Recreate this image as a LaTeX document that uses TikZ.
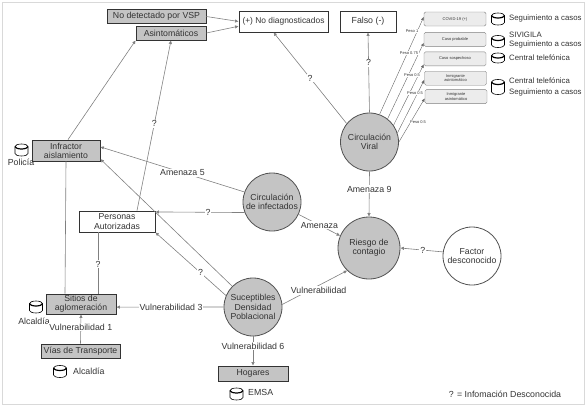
\documentclass[tikz,border=0pt]{standalone}
\usepackage{fontspec}
\setmainfont{Liberation Sans}
\usepackage{xcolor}
\usetikzlibrary{arrows.meta,positioning,shapes.geometric}
\definecolor{tinta}{HTML}{333333}
\definecolor{linea}{HTML}{808080}
\definecolor{relleno}{HTML}{C4C4C4}
\tikzset{
    caja/.style={
        rectangle,
        draw=tinta,
        thick,
        align=center,
        inner sep=0pt,
        text=tinta,
        font=\fontsize{8.7}{9.2}\selectfont
    },
    cajaGris/.style={caja, fill=relleno},
    cajaBlanca/.style={caja, fill=white},
    circulo/.style={
        circle,
        draw=tinta!85,
        thick,
        align=center,
        inner sep=0pt,
        minimum size=58pt,
        fill=relleno,
        text=tinta,
        font=\fontsize{8.7}{9.2}\selectfont
    },
    casoBox/.style={
        rectangle,
        draw=linea,
        rounded corners=1.5pt,
        fill=gray!15,
        align=center,
        inner sep=0pt,
        minimum width=62pt,
        minimum height=14pt,
        text=tinta,
        font=\fontsize{4}{4.6}\selectfont
    },
    flujo/.style={-{Latex[length=3.5pt,width=3.5pt]}, draw=linea, semithick},
    enlace/.style={draw=linea, semithick},
    flujoFino/.style={-{Latex[length=3.5pt,width=3pt]}, draw=linea!80!black, thin},
    rotulo/.style={fill=white, inner sep=1pt, text=tinta, font=\fontsize{8.8}{9.2}\selectfont},
    peso/.style={fill=white, inner sep=.5pt, text=tinta, font=\fontsize{4}{4.6}\selectfont},
    texto/.style={inner sep=0pt, align=left, anchor=west, text=tinta, font=\fontsize{7.8}{9.2}\selectfont},
    textoBase/.style={inner sep=0pt, text=tinta, font=\fontsize{8.8}{9.2}\selectfont},
    pics/banco/.style={code={
        \draw[black, semithick, fill=white] (-6.5,-#1) -- (-6.5,#1)
            arc[start angle=180, end angle=360, x radius=6.5pt, y radius=2.5pt]
            -- (6.5,-#1)
            arc[start angle=0, end angle=180, x radius=6.5pt, y radius=2.5pt] -- cycle;
        \draw[black, line width=1.2pt] (-6.5,-#1)
            arc[start angle=180, end angle=360, x radius=6.5pt, y radius=2.5pt];
    }}
}

\begin{document}
\begin{tikzpicture}[x=1pt, y=-1pt, node distance=5pt and 6pt]
    \useasboundingbox (0,0) rectangle (587,407);
    \draw[gray!30, thick] (2,2) rectangle (584,404);

    % cajas de arriba
    \node[cajaGris, minimum width=99pt, minimum height=14pt, font=\fontsize{8.75}{9.6}\selectfont] (nodetectado) at (156.5,16.5) {No detectado por VSP};
    \node[cajaGris, minimum width=70pt, minimum height=14pt, font=\fontsize{8.75}{9.6}\selectfont] (asintomaticos) at (171,33) {Asintomáticos};
    \node[cajaBlanca, minimum width=89pt, minimum height=21pt, font=\fontsize{8.4}{9.6}\selectfont] (nodiag) at (283.5,21.5) {(+) No diagnosticados};
    \node[cajaBlanca, minimum width=56pt, minimum height=21pt, font=\fontsize{8.8}{9.6}\selectfont] (falso) at (368,21.5) {Falso (-)};

    % casos
    \node[casoBox] (covid) at (455,19) {COVID-19 (+)};
    \node[casoBox, below=6pt of covid] (probable) {Caso probable};
    \node[casoBox, below=5pt of probable] (sospechoso) {Caso sospechoso};
    \node[casoBox, below=5pt of sospechoso, xshift=.5pt] (inmigranteA) {Inmigrante\\asintomático};
    \node[casoBox, below=4pt of inmigranteA, xshift=.5pt] (inmigranteB) {Inmigrante\\asintomático};

    \pic at (498,19) {banco=3.5};
    \pic at (498,41.5) {banco=3.5};
    \pic at (498,58) {banco=2.5};
    \pic at (498,87) {banco=5};
    \node[texto] (txtCovid) at (509,18) {Seguimiento a casos};
    \node[texto] (txtProbable) at (509,40) {SIVIGILA\\Seguimiento a casos};
    \node[texto] (txtSospechoso) at (509,58) {Central telefónica};
    \node[texto] (txtInmigrante) at (509,87) {Central telefónica\\[1pt]Seguimiento a casos};

    % circulos
    \node[circulo] (viral) at (369.5,142) {Circulación\\Viral};
    \node[circulo] (infectados) at (272,202) {Circulación\\de infectados};
    \node[circulo] (suceptibles) at (253,307) {Suceptibles\\Densidad\\Poblacional};
    \node[circulo, minimum size=62pt] (riesgo) at (369,248) {Riesgo de\\contagio};
    \node[circulo, fill=white] (factor) at (472,256) {Factor\\desconocido};

    % cajas de la izquierda y abajo
    \node[cajaGris, minimum width=68pt, minimum height=21pt] (infractor) at (66,150.5) {Infractor\\aislamiento};
    \node[cajaBlanca, minimum width=76pt, minimum height=21pt] (personas) at (117,221.5) {Personas\\Autorizadas};
    \node[cajaGris, minimum width=70pt, minimum height=20pt] (sitios) at (81,304) {Sitios de\\aglomeración};
    \node[cajaGris, minimum width=79pt, minimum height=14pt] (vias) at (80.5,351) {Vías de Transporte};
    \node[cajaGris, minimum width=70pt, minimum height=15pt] (hogares) at (253,373.5) {Hogares};

    \pic at (21.5,150) {banco=3.5};
    \node[textoBase] (txtPolicia) at (21,162) {Policía};
    \pic at (36,307) {banco=3.5};
    \node[textoBase] (txtAlcaldiaA) at (34,321) {Alcaldía};
    \pic at (60,371.5) {banco=3.5};
    \node[textoBase, anchor=west] (txtAlcaldiaB) at (73,371) {Alcaldía};
    \pic at (236.5,394) {banco=3.5};
    \node[textoBase, anchor=west] (txtEmsa) at (248,392) {EMSA};
    \node[textoBase] (leyenda) at (505,394) {? = Infomación Desconocida};

    % flechas
    \draw[flujo] (nodetectado.east) -- (nodiag.west);
    \draw[flujo] (asintomaticos.east) -- (nodiag.186);
    \draw[flujo] (viral.141) -- node[rotulo] {?} ([xshift=-10pt]nodiag.south);
    \draw[flujo] (viral.north) -- node[rotulo, pos=.62] {?} (falso.south);

    \draw[flujoFino] (viral.70) -- (covid.176);
    \draw[flujoFino] (viral.52) -- (probable.186);
    \draw[flujoFino] (viral.35) -- (sospechoso.190);
    \draw[flujoFino] (viral.18) -- (inmigranteA.183);
    \draw[flujoFino] (viral.0) -- (inmigranteB.183);
    \node[peso] (pesoUno) at (412,31) {Peso 1};
    \node[peso] (pesoDos) at (409,53) {Peso 0.75};
    \node[peso] (pesoTres) at (412,75) {Peso 0.5};
    \node[peso] (pesoCuatro) at (415,93) {Peso 0.5};
    \node[peso] (pesoCinco) at (418,122) {Peso 0.5};

    \draw[flujo] ([xshift=2pt]infractor.north) -- (asintomaticos.south west);
    \draw[enlace] ([xshift=-16pt]sitios.north) -- (infractor.south);
    \draw[flujo] ([xshift=20pt]personas.north) -- node[rotulo, pos=.51] {?} (asintomaticos.south);
    \draw[enlace] ([xshift=17pt]sitios.north) -- node[rotulo, pos=.48] {?} ([xshift=-19pt]personas.south);

    \draw[flujo] (infectados.160) -- node[rotulo, pos=.43] {Amenaza 5} (infractor.6);
    \draw[flujo] (suceptibles.135) -- (infractor.346);
    \draw[flujo] (infectados.201) -- node[rotulo, pos=.41] {?} (personas.14);
    \draw[flujo] (suceptibles.157) -- node[rotulo, pos=.36] {?} (personas.south east);
    \draw[flujo] (suceptibles.west) -- node[rotulo, pos=.49] {Vulnerabilidad 3} (sitios.355);
    \draw[flujo] (vias.north) -- node[rotulo, pos=.57] {Vulnerabilidad 1} (sitios.south);
    \draw[flujo] (suceptibles.south) -- node[rotulo, pos=.33] {Vulnerabilidad 6} (hogares.north);
    \draw[flujo] (suceptibles.5) -- node[rotulo, pos=.56, yshift=-5pt] {Vulnerabilidad} (riesgo.226);
    \draw[flujo] (infectados.335) -- node[rotulo] {Amenaza} (riesgo.157);
    \draw[flujo] (viral.south) -- node[rotulo, pos=.39] {Amenaza 9} (riesgo.north);
    \draw[flujo] (factor.172) -- node[rotulo, pos=.47] {?} (riesgo.east);
\end{tikzpicture}
\end{document}
